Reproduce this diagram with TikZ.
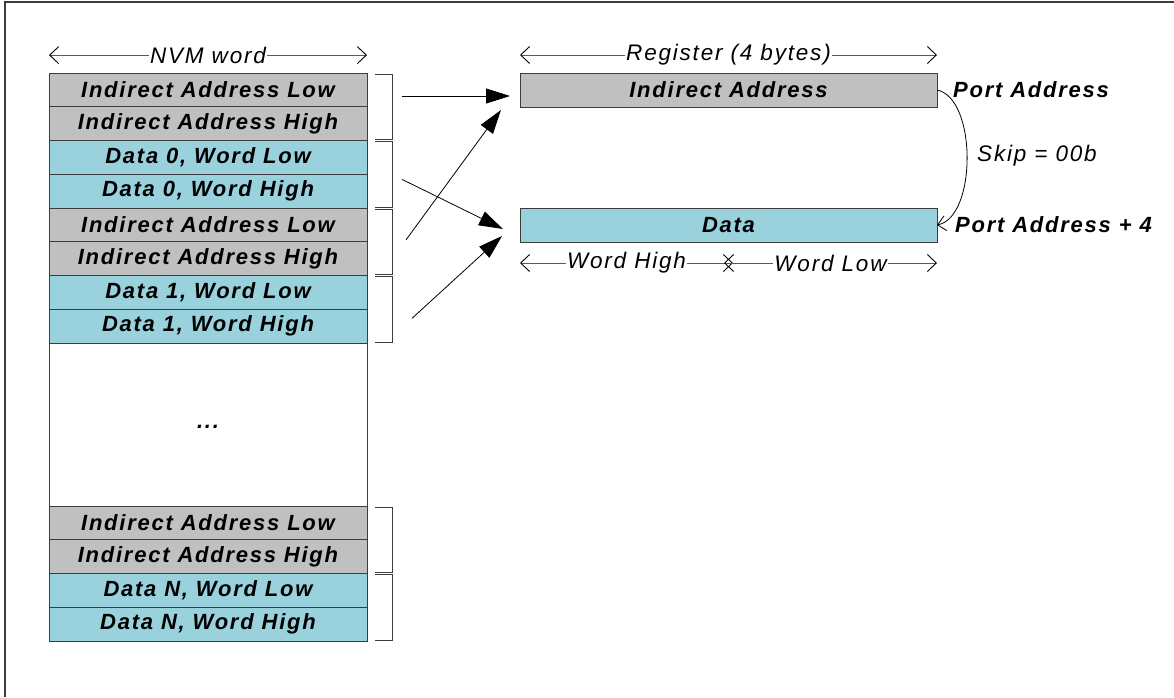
\documentclass[tikz,border=0pt]{standalone}
\usepackage{fontspec}
\setmainfont{Liberation Sans}[LetterSpace=8]
\usetikzlibrary{arrows.meta,positioning,calc}
\definecolor{addrgray}{RGB}{192,192,192}
\definecolor{datacyan}{RGB}{153,209,221}
\definecolor{edgegray}{RGB}{60,60,60}
\definecolor{dimgray}{RGB}{90,90,90}

\begin{document}
\begin{tikzpicture}[x=1pt, y=-1pt, font=\fontsize{22.5}{26}\selectfont\itshape,
  cell/.style={draw=edgegray, line width=1pt, minimum width=318pt, minimum height=33.75pt, inner sep=0pt, outer sep=0pt, font=\fontsize{22}{26}\selectfont\bfseries\itshape},
  acell/.style={cell, fill=addrgray},
  dcell/.style={cell, fill=datacyan},
  reg/.style={cell, minimum width=417pt, minimum height=34pt},
  dim/.style={draw=dimgray, line width=0.9pt, {Straight Barb[length=9pt,width=17pt,black]}-{Straight Barb[length=9pt,width=17pt,black]}},
  lbl/.style={fill=white, text=black, inner xsep=1pt, inner ysep=0pt},
  brk/.style={draw=edgegray, line width=1pt},
  bigarr/.style={line width=0.8pt, -{Triangle[length=24pt,width=15pt]}},
  side/.style={anchor=west, inner sep=0pt, font=\fontsize{22}{26}\selectfont\bfseries\itshape}]
\useasboundingbox (0,0) rectangle (1174,697);
\draw[draw=edgegray, line width=1.5pt] (5,697) -- (5,2) -- (1174,2);

% NVM words
\node[acell] (c1) at (208,90) {Indirect Address Low};
\node[acell,below=0pt of c1] (c2) {Indirect Address High};
\node[dcell,below=0pt of c2] (c3) {Data 0, Word Low};
\node[dcell,below=0pt of c3] (c4) {Data 0, Word High};
\node[acell,below=0pt of c4] (c5) {Indirect Address Low};
\node[acell,below=0pt of c5] (c6) {Indirect Address High};
\node[dcell,below=0pt of c6] (c7) {Data 1, Word Low};
\node[dcell,below=0pt of c7] (c8) {Data 1, Word High};
\node[cell,fill=white,minimum height=163pt,below=0pt of c8] (gap) {\raisebox{-8pt}{...}};
\node[acell,below=0pt of gap] (c9) {Indirect Address Low};
\node[acell,below=0pt of c9] (c10) {Indirect Address High};
\node[dcell,below=0pt of c10] (c11) {Data N, Word Low};
\node[dcell,below=0pt of c11] (c12) {Data N, Word High};
\draw[dim] ([yshift=18pt]c1.north west) -- node[lbl]{NVM word} ([yshift=18pt]c1.north east);

\foreach \a/\b in {c1/c2,c3/c4,c5/c6,c7/c8,c9/c10,c11/c12}
  \draw[brk] ([xshift=8pt,yshift=-1pt]\a.north east) -- ++(17,0) |- ([xshift=8pt,yshift=1pt]\b.south east);

% register
\node[reg,fill=addrgray] (ia) at (728.5,90) {Indirect Address};
\node[reg,fill=datacyan] (da) at (728.5,225) {Data};
\draw[dim] ([yshift=18pt]ia.north west) -- node[lbl]{Register (4 bytes)} ([yshift=18pt]ia.north east);
\coordinate (wmid) at ($(da.south)+(0,21)$);
\draw[dim] ([yshift=-21pt]da.south west) -- node[lbl]{Word High} ($(wmid)+(4.5,0)$);
\draw[dim] ($(wmid)+(-4.5,0)$) -- node[lbl]{Word Low} ([yshift=-21pt]da.south east);

\draw[bigarr] ($(c1.east)+(35,6)$) -- ($(ia.west)+(-10,6)$);
\draw[bigarr] ($(c5.south east)+(39,-2)$) -- ($(ia.south west)+(-19,3)$);
\draw[bigarr] ($(c4.north east)+(35,5)$) -- ($(da.west)+(-17,4)$);
\draw[bigarr] ($(c8.north east)+(45,9)$) -- ($(da.south west)+(-18,-6)$);

\draw[line width=0.8pt, -{Straight Barb[length=8pt,width=15pt]}] (ia.east) .. controls +(40,8) and +(40,-8) .. (da.east);
\node[side] (pa) at ($(ia.east)+(16,0)$) {Port Address};
\node[side] (pa4) at ($(da.east)+(18,0)$) {Port Address + 4};
\node[anchor=west, inner sep=0pt] (skip) at ($(ia.east)!0.5!(da.east)+(40,-2)$) {Skip = 00b};
\end{tikzpicture}
\end{document}
